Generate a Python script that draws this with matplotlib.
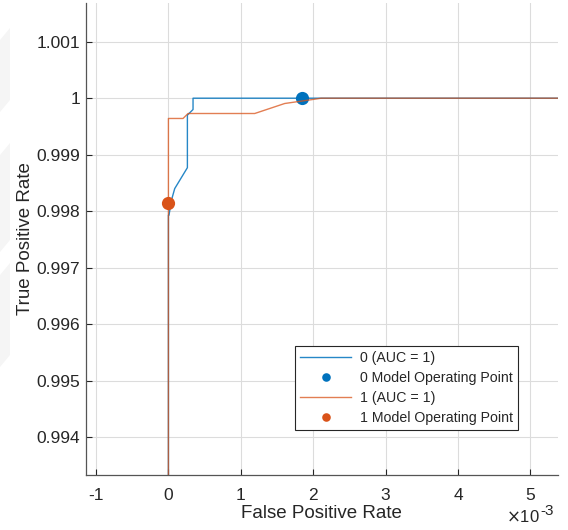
import matplotlib
matplotlib.use('Agg')

import matplotlib.pyplot as plt
from matplotlib.patches import Polygon

# ROC curves for the two classes (FPR, TPR)
fpr_0 = [0.0, 0.0, 0.000008, 0.000041, 0.000087, 0.000262, 0.000262,
         0.00034, 0.00034, 1.0]
tpr_0 = [0.0, 0.99793, 0.99793, 0.99819, 0.99840, 0.99877, 0.99970,
         0.99980, 1.0, 1.0]
fpr_1 = [0.0, 0.0, 0.000202, 0.000271, 0.001192, 0.001606, 0.00202,
         0.00211, 1.0]
tpr_1 = [0.0, 0.999641, 0.999641, 0.999729, 0.999729, 0.999906, 0.999982,
         1.0, 1.0]

# operating points
op_0 = (0.001848, 1.0)
op_1 = (0.0, 0.998147)

auc_0 = 1
auc_1 = 1

x_ticks = [-0.001, 0.0, 0.001, 0.002, 0.003, 0.004, 0.005]
y_ticks = [0.994, 0.995, 0.996, 0.997, 0.998, 0.999, 1.0, 1.001]
y_tick_labels = ['0.994', '0.995', '0.996', '0.997', '0.998', '0.999',
                 '1', '1.001']

BLUE = '#0072BD'
ORANGE = '#D95319'
TXT = '#262626'

plt.rcParams['font.family'] = ['Liberation Sans', 'DejaVu Sans']
plt.rcParams['axes.unicode_minus'] = False

fig = plt.figure(figsize=(5.68, 5.30), dpi=100)
ax = fig.add_axes([85.6 / 568, 55.0 / 530, 472.1 / 568, 472.0 / 530])

# faint background mark at the left edge
for pts in ([(0, 490), (10, 502), (10, 430), (0, 418)],
            [(0, 375), (10, 387), (10, 290), (0, 278)],
            [(0, 255), (10, 267), (10, 175), (0, 163)]):
    fig.patches.append(Polygon([(x / 568, y / 530) for x, y in pts],
                               closed=True, transform=fig.transFigure,
                               facecolor='#f5f5f5', edgecolor='none',
                               zorder=-1))

ax.plot(fpr_0, tpr_0, color=BLUE, lw=1.0, alpha=0.85,
        label='0 (AUC = %g)' % auc_0)
ax.plot([op_0[0]], [op_0[1]], 'o', color=BLUE, ms=9.5, mec='none',
        label='0 Model Operating Point')
ax.plot(fpr_1, tpr_1, color=ORANGE, lw=1.0, alpha=0.75,
        label='1 (AUC = %g)' % auc_1)
ax.plot([op_1[0]], [op_1[1]], 'o', color=ORANGE, ms=9.5, mec='none',
        label='1 Model Operating Point')

ax.set_xlim(-0.001144, 0.005377)
ax.set_ylim(0.99333, 1.001685)

ax.set_xticks(x_ticks)
ax.set_xticklabels(['%g' % round(v * 1000) for v in x_ticks])
ax.set_yticks(y_ticks)
ax.set_yticklabels(y_tick_labels)

ax.tick_params(direction='in', length=4, width=0.8, colors=TXT,
               labelsize=12.5)
ax.tick_params(axis='x', pad=9)
ax.tick_params(axis='y', pad=4)
ax.grid(True, color='#dcdcdc', lw=0.8)
ax.set_axisbelow(True)

for side in ('top', 'right'):
    ax.spines[side].set_visible(False)
for side in ('left', 'bottom'):
    ax.spines[side].set_color('#555555')
    ax.spines[side].set_linewidth(0.9)

ax.set_xlabel('False Positive Rate', fontsize=13.5, color=TXT, labelpad=2)
ax.set_ylabel('True Positive Rate', fontsize=13.5, color=TXT, labelpad=2)

# exponent for the x axis, written as ×10 with a raised -3
ax.text(0.962, -0.09, r'$\times$10', transform=ax.transAxes,
        ha='right', va='center', fontsize=12, color=TXT)
ax.text(0.963, -0.077, '-3', transform=ax.transAxes,
        ha='left', va='center', fontsize=11, color=TXT)

leg = ax.legend(loc='lower right', bbox_to_anchor=(0.915, 0.0953),
                borderaxespad=0, fontsize=10.2, frameon=True, fancybox=False,
                handlelength=3.6, labelspacing=0.42, markerscale=0.65,
                handletextpad=0.6, borderpad=0.35)
leg.get_frame().set_edgecolor('#262626')
leg.get_frame().set_linewidth(0.8)
leg.get_frame().set_alpha(1)
for t in leg.get_texts():
    t.set_color(TXT)

fig.savefig('out.png', dpi=100)
